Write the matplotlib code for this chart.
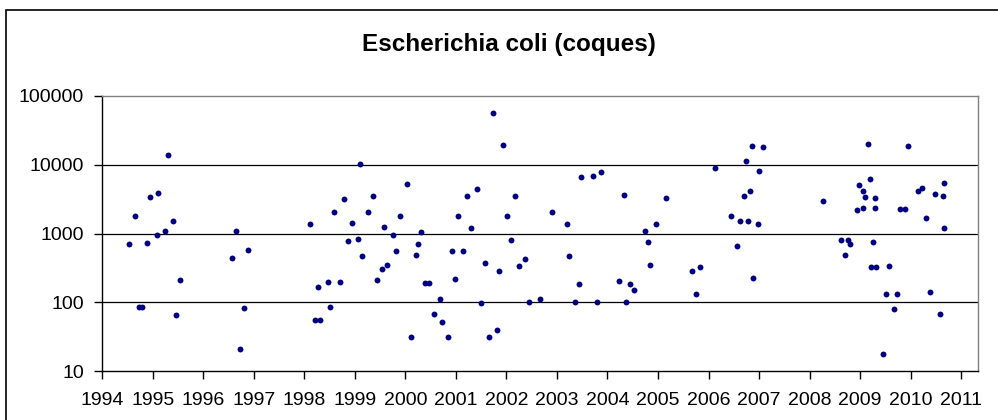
import matplotlib.pyplot as plt
from matplotlib.ticker import FixedLocator, NullLocator, FuncFormatter
from matplotlib.patches import Rectangle

plt.rcParams['font.family'] = ['Liberation Sans', 'DejaVu Sans']

# sample dates (decimal years) and counts
years = [1994.53, 1994.65, 1994.73, 1994.79, 1994.89, 1994.95, 1995.09, 1995.11,
         1995.25, 1995.31, 1995.39, 1995.46, 1995.54, 1996.56, 1996.64, 1996.73,
         1996.80, 1996.88, 1998.12, 1998.26, 1998.22, 1998.31, 1998.47, 1998.50,
         1998.58, 1998.70, 1998.78, 1998.86, 1998.94, 1999.06, 1999.10, 1999.15,
         1999.26, 1999.36, 1999.44, 1999.54, 1999.58, 1999.64, 1999.76, 1999.82,
         1999.89, 2000.04, 2000.12, 2000.20, 2000.24, 2000.31, 2000.39, 2000.47,
         2000.56, 2000.68, 2000.72, 2000.84, 2000.92, 2000.99, 2001.05, 2001.13,
         2001.21, 2001.29, 2001.42, 2001.50, 2001.58, 2001.65, 2001.73, 2001.81,
         2001.85, 2001.93, 2002.01, 2002.09, 2002.17, 2002.25, 2002.37, 2002.44,
         2002.66, 2002.91, 2003.19, 2003.23, 2003.35, 2003.43, 2003.47, 2003.71,
         2003.79, 2003.87, 2004.22, 2004.32, 2004.37, 2004.45, 2004.52, 2004.74,
         2004.80, 2004.85, 2004.96, 2005.16, 2005.68, 2005.75, 2005.83, 2006.12,
         2006.44, 2006.56, 2006.62, 2006.78, 2006.70, 2006.74, 2006.82, 2006.86,
         2006.89, 2006.98, 2007.00, 2007.08, 2008.27, 2008.62, 2008.71, 2008.77,
         2008.81, 2008.93, 2008.97, 2009.05, 2009.05, 2009.09, 2009.16, 2009.20,
         2009.21, 2009.31, 2009.25, 2009.29, 2009.29, 2009.45, 2009.51, 2009.57,
         2009.67, 2009.73, 2009.79, 2009.88, 2009.95, 2010.15, 2010.23, 2010.31,
         2010.39, 2010.49, 2010.59, 2010.64, 2010.67, 2010.67]
counts = [711, 1815, 84, 84, 735, 3430, 961, 3925,
          1099, 13700, 1538, 65, 211, 440, 1099, 20.7,
          82, 575, 1389, 167, 55, 55, 197, 84,
          2075, 197, 3207, 786, 1435, 840, 10150, 475,
          2075, 3548, 211, 305, 1256, 352, 961, 562,
          1815, 5200, 31, 492, 711, 1062, 190, 190,
          67.5, 110, 51, 31, 556, 218, 1815, 556,
          3548, 1216, 4487, 96.5, 372, 31, 56600, 39,
          285, 19200, 1815, 804, 3548, 337, 426, 100,
          110, 2075, 1389, 475, 100, 184, 6560, 6930,
          100, 7925, 204, 3670, 100, 184, 151, 1099,
          752, 348, 1389, 3318, 285, 130, 326, 8870,
          1815, 664, 1538, 1538, 3548, 11220, 4107, 18550,
          225, 1389, 8035, 17900, 3000, 804, 492, 804,
          711, 2222, 5130, 4195, 2375, 3430, 19800, 6275,
          326, 326, 752, 3318, 2375, 17.9, 130, 337,
          79, 130, 2296, 2296, 18550, 4195, 4634, 1698,
          139, 3790, 67, 3548, 5480, 1216]

year_ticks = list(range(1994, 2012))
y_ticks = [10, 100, 1000, 10000, 100000]
title = "Escherichia coli (coques)"

fig = plt.figure(figsize=(9.98, 4.2), dpi=100)
# outer chart frame (cut off at right and bottom like the original)
fig.patches.append(Rectangle((6 / 998, -0.1), 1.2, 1 - 10 / 420 + 0.1,
                             transform=fig.transFigure, fill=False,
                             edgecolor='black', linewidth=1.2))

ax = fig.add_axes([102.3 / 998, 1 - 371 / 420, 876 / 998, 275 / 420])
ax.scatter(years, counts, s=18, color='#000080', zorder=3, linewidths=0)

ax.set_yscale('log')
ax.set_ylim(10, 100000)
ax.set_xlim(1994, 2011.34)
ax.yaxis.set_major_locator(FixedLocator(y_ticks))
ax.yaxis.set_minor_locator(NullLocator())
ax.yaxis.set_major_formatter(FuncFormatter(lambda v, p: f"{int(round(v))}"))
ax.set_xticks(year_ticks)
ax.set_xticklabels([str(y) for y in year_ticks])

for yv in [100, 1000, 10000]:
    ax.axhline(yv, color='black', linewidth=0.9, zorder=1)

ax.spines['top'].set_color('#808080')
ax.spines['right'].set_color('#808080')
ax.spines['left'].set_color('black')
ax.spines['bottom'].set_color('black')
for s in ax.spines.values():
    s.set_linewidth(1.0)

ax.tick_params(axis='x', direction='out', length=6, width=1, pad=9, labelsize=14)
ax.tick_params(axis='y', direction='out', length=6, width=1, pad=7, labelsize=14)

fig.text(509 / 998, 1 - 51 / 420, title, ha='center', va='baseline',
         fontsize=17.5, fontweight='bold')

fig.savefig('out.png', dpi=100)
